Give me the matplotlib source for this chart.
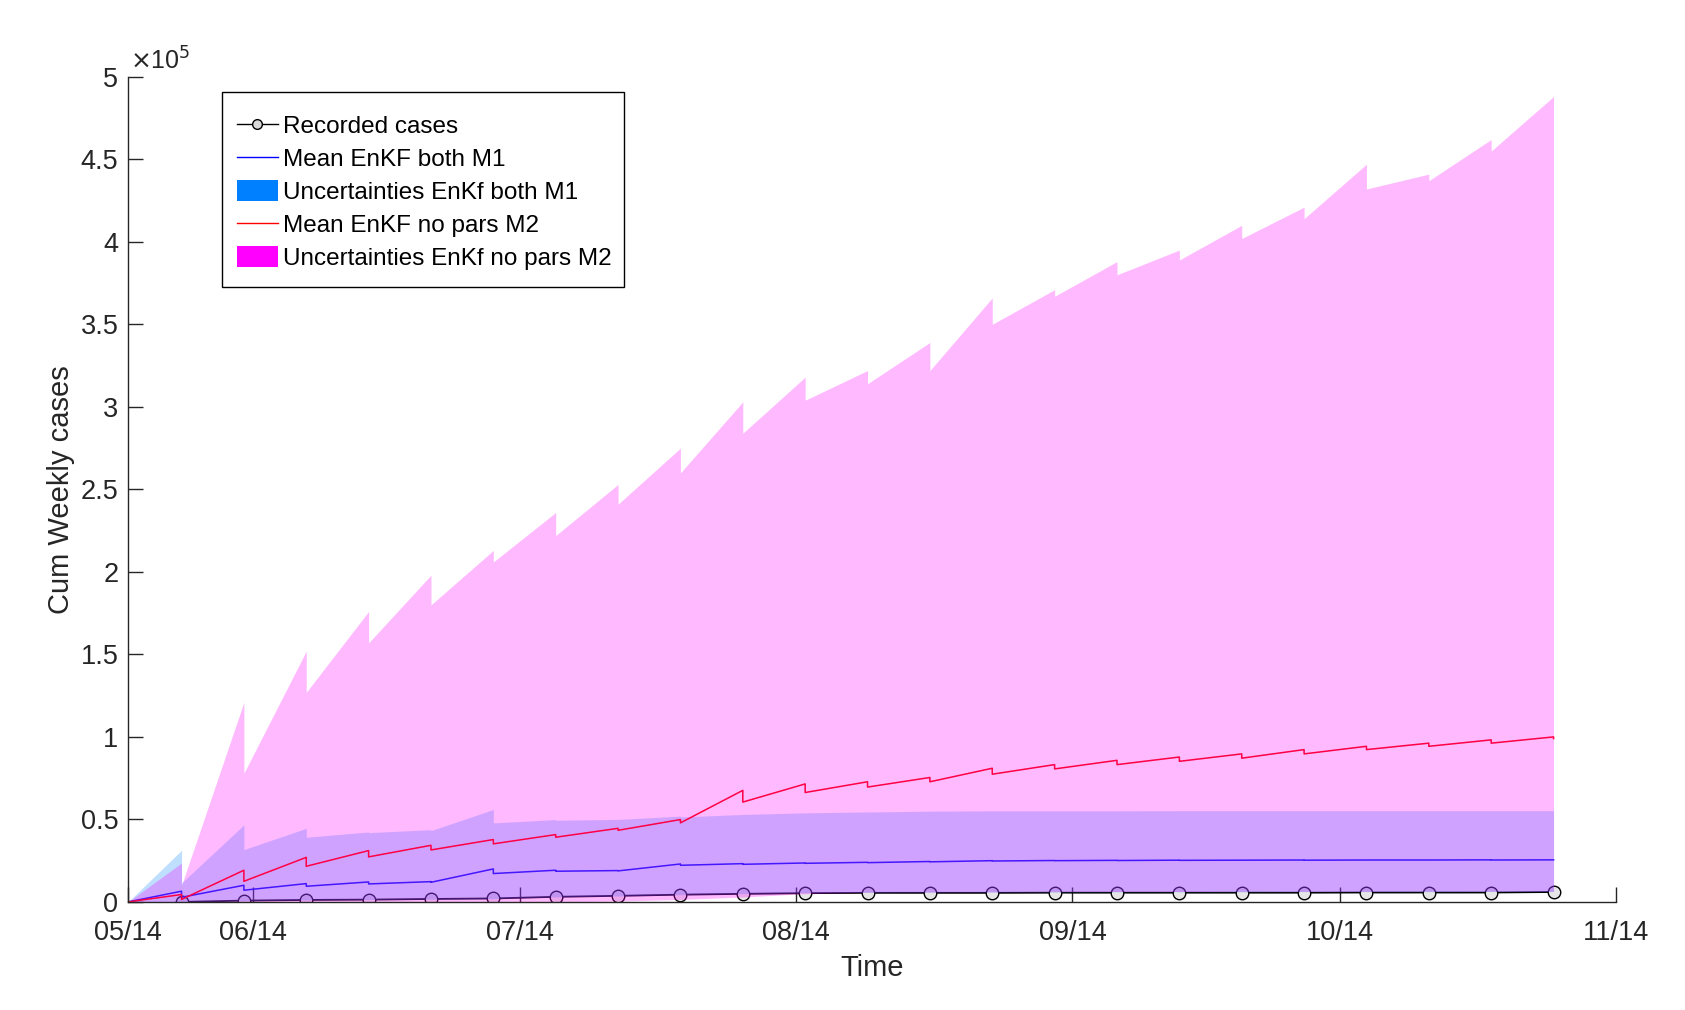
import numpy as np
import matplotlib
matplotlib.use("Agg")
import matplotlib.pyplot as plt
import matplotlib.dates as mdates
from matplotlib.lines import Line2D
from matplotlib.patches import Patch, Rectangle
from matplotlib.ticker import FuncFormatter

plt.rcParams['font.family'] = ['Liberation Sans', 'DejaVu Sans']

# ---------------- data ----------------
start_date = "2014-05-18"
end_date = "2014-11-01"
obs_dates = ["2014-05-24", "2014-05-31", "2014-06-07", "2014-06-14", "2014-06-21",
             "2014-06-28", "2014-07-05", "2014-07-12", "2014-07-19", "2014-07-26",
             "2014-08-02", "2014-08-09", "2014-08-16", "2014-08-23", "2014-08-30",
             "2014-09-06", "2014-09-13", "2014-09-20", "2014-09-27", "2014-10-04",
             "2014-10-11", "2014-10-18", "2014-10-25"]

recorded = [0, 800, 1200, 1400, 1800, 2100, 3100, 3700, 4400, 4900, 5300, 5500,
            5500, 5500, 5600, 5600, 5600, 5600, 5600, 5700, 5700, 5700, 6000]

# M1 (EnKF both): mean before (forecast) / after (analysis) update
m1_mean_fc = [6500, 10100, 11100, 12100, 12300, 20000, 19200, 19000, 23000, 23200,
              23600, 24000, 24500, 25000, 25100, 25200, 25300, 25300, 25400, 25400,
              25400, 25500, 25500]
m1_mean_an = [2800, 7100, 9500, 10900, 11900, 17200, 18600, 18800, 22200, 22800,
              23400, 23800, 24300, 24800, 25000, 25100, 25200, 25300, 25300, 25400,
              25400, 25400, 25500]
m1_up_fc = [31300, 46700, 44600, 42400, 43800, 56000, 49900, 50000, 52000, 53000,
            54000, 54500, 55000, 55200, 55200, 55200, 55300, 55300, 55300, 55300,
            55300, 55300, 55300]
m1_up_an = [11500, 31700, 39200, 42000, 43200, 47900, 49500, 50000, 51500, 53000,
            54000, 54500, 55000, 55200, 55200, 55200, 55300, 55300, 55300, 55300,
            55300, 55300, 55300]
m1_low = [0, 700, 1100, 1400, 1700, 2000, 3000, 3600, 4400, 5000, 5500, 5800,
          5900, 6000, 6000, 6100, 6100, 6100, 6200, 6200, 6200, 6300, 6300]

# M2 (EnKF no pars)
m2_mean_fc = [4500, 19200, 27000, 31100, 34300, 37800, 40800, 44600, 49900, 67600,
              71500, 72800, 75400, 81000, 83200, 85800, 87800, 89700, 92300, 94300,
              96200, 98200, 100000]
m2_mean_an = [1500, 12500, 21600, 27300, 31500, 35200, 39200, 43400, 47900, 60500,
              66300, 69600, 72800, 77400, 80600, 83200, 85200, 87100, 89700, 92300,
              94300, 96200, 99000]
m2_up_fc = [23600, 121000, 152000, 176000, 198000, 213000, 236000, 253000, 275000,
            303000, 318000, 322000, 339000, 366000, 371000, 388000, 395000, 410000,
            421000, 447000, 441000, 462000, 488000]
m2_up_an = [10000, 78000, 127000, 157000, 180000, 206000, 222000, 241000, 260000,
            284000, 304000, 314000, 322000, 350000, 367000, 380000, 389000, 402000,
            414000, 432000, 437000, 455000, 488000]
m2_low = [0, 0, 0, 0, 0, 0, 0, 500, 1500, 3000, 5000, 5900, 6000, 6100, 6200,
          6300, 6300, 6400, 6400, 6400, 6500, 6500, 6500]

x_tick_dates = ["2014-05-18", "2014-06-01", "2014-07-01", "2014-08-01",
                "2014-09-01", "2014-10-01", "2014-11-01"]
y_ticks = [0, 50000, 100000, 150000, 200000, 250000, 300000, 350000, 400000,
           450000, 500000]

# ---------------- helpers ----------------
t0 = np.datetime64(start_date)
obs = np.array(obs_dates, dtype="datetime64[D]")


def sawtooth(fc, an):
    xs = [t0]
    ys = [0.0]
    for d, f, a in zip(obs, fc, an):
        xs += [d, d]
        ys += [f, a]
    return np.array(xs, dtype="datetime64[D]"), np.array(ys, dtype=float)


def doubled(vals):
    ys = [0.0]
    for v in vals:
        ys += [v, v]
    return np.array(ys, dtype=float)


TXT = (0.15, 0.15, 0.15)

fig = plt.figure(figsize=(16.85, 10.10), dpi=100)
ax = fig.add_axes([0.076, 0.107, 0.883, 0.817])

# recorded cases
ax.plot(obs, recorded, color='black', lw=1.3, marker='o', ms=9,
        mfc=(0.9, 0.9, 0.9), mec='black', mew=1.0, zorder=2)

# M1
x1, y1 = sawtooth(m1_mean_fc, m1_mean_an)
ax.plot(x1, y1, color=(0, 0, 1), lw=1.1, zorder=3)
xu1, yu1 = sawtooth(m1_up_fc, m1_up_an)
ax.fill_between(xu1, doubled(m1_low), yu1, color=(0, 0.5, 1), alpha=0.25,
                lw=0, zorder=4)

# M2
x2, y2 = sawtooth(m2_mean_fc, m2_mean_an)
ax.plot(x2, y2, color=(1, 0, 0), lw=1.1, zorder=5)
xu2, yu2 = sawtooth(m2_up_fc, m2_up_an)
ax.fill_between(xu2, doubled(m2_low), yu2, color=(1, 0, 1), alpha=0.27,
                lw=0, zorder=6)

# axes formatting
ax.set_xlim(np.datetime64(start_date), np.datetime64(end_date))
ax.set_ylim(0, 500000)
ax.set_xticks(np.array(x_tick_dates, dtype="datetime64[D]"))
ax.xaxis.set_major_formatter(mdates.DateFormatter('%m/%y'))
ax.set_yticks(y_ticks)
ax.yaxis.set_major_formatter(FuncFormatter(lambda v, p: f"{v / 1e5:g}"))

for s in ['top', 'right']:
    ax.spines[s].set_visible(False)
for s in ['left', 'bottom']:
    ax.spines[s].set_color(TXT)
    ax.spines[s].set_linewidth(1.0)
    ax.spines[s].set_zorder(10)

ax.tick_params(axis='both', direction='in', length=11, width=1.0, colors=TXT,
               labelsize=19.5)
ax.tick_params(axis='x', pad=13)
ax.tick_params(axis='y', pad=7)

ax.set_xlabel('Time', fontsize=21, color=TXT, labelpad=6)
ax.set_ylabel('Cum Weekly cases', fontsize=21, color=TXT, labelpad=4)

fig.text(0.0772, 0.9307, r'$\times$10$^{5}$', fontsize=18, color=TXT,
         ha='left', va='baseline')

# legend frame (white box with black edge)
fig.patches.append(Rectangle((0.1316, 0.716), 0.2387, 0.193,
                             transform=fig.transFigure, facecolor='white',
                             edgecolor='black', lw=1.0, zorder=20))

handles = [
    Line2D([], [], color='black', lw=1.0, marker='o', ms=7,
           mfc=(0.85, 0.85, 0.85), mec='black'),
    Line2D([], [], color=(0, 0, 1), lw=1.0),
    Patch(facecolor=(0, 0.5, 1), edgecolor='none'),
    Line2D([], [], color=(1, 0, 0), lw=1.0),
    Patch(facecolor=(1, 0, 1), edgecolor='none'),
]
labels = ['Recorded cases', 'Mean EnKF both M1', 'Uncertainties EnKf both M1',
          'Mean EnKF no pars M2', 'Uncertainties EnKf no pars M2']
leg = fig.legend(handles, labels, loc='upper left',
                 bbox_to_anchor=(0.1405, 0.887), bbox_transform=fig.transFigure,
                 borderaxespad=0, fontsize=17.5, frameon=False,
                 handlelength=1.7, handleheight=0.95, handletextpad=0.2,
                 labelspacing=0.38, borderpad=0.0)
leg.set_zorder(21)
for t in leg.get_texts():
    t.set_color('black')

fig.savefig('out.png', dpi=100, facecolor='white')
